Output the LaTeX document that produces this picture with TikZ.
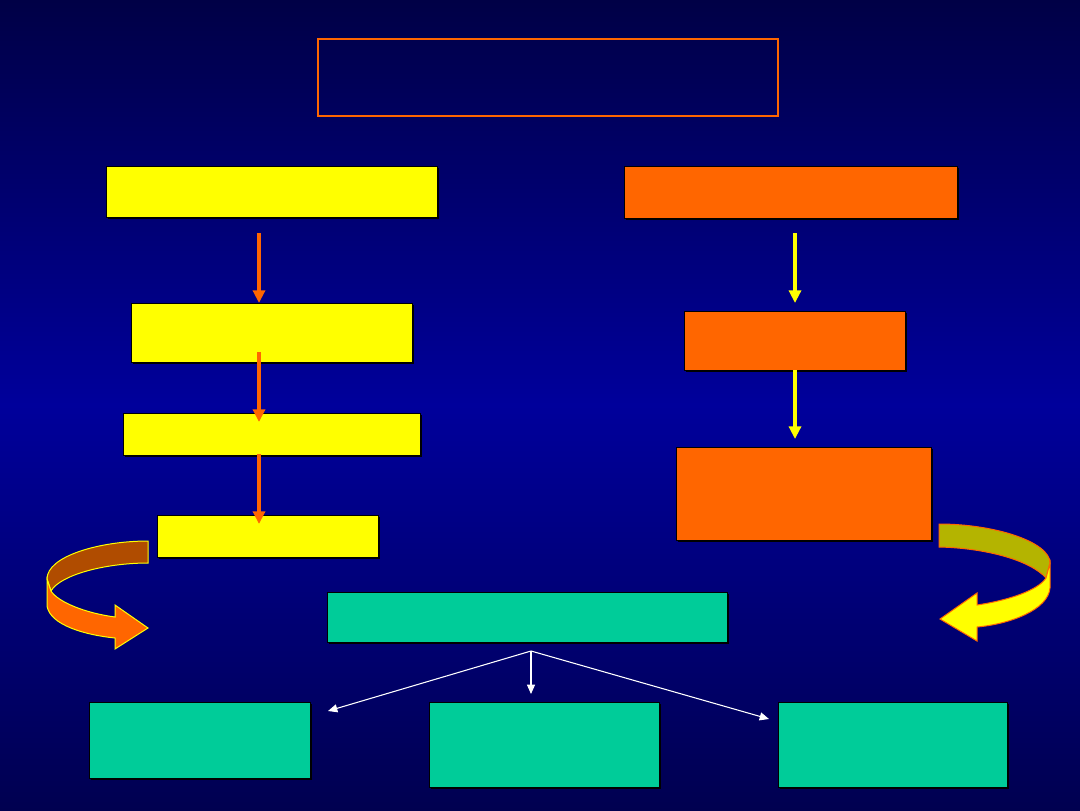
\documentclass[tikz,border=0pt]{standalone}
\usetikzlibrary{arrows.meta,shadows}

\begin{document}
\begin{tikzpicture}[x=0.75pt,y=0.75pt,yscale=-1,xscale=1,
  box/.style={draw=black,line width=0.75pt,inner sep=0pt,
    drop shadow={opacity=1,fill=black,shadow xshift=1.2pt,shadow yshift=-1.2pt}},
  ybox/.style={box,fill={rgb, 255:red, 255; green, 255; blue, 0 }},
  obox/.style={box,fill={rgb, 255:red, 255; green, 102; blue, 0 }},
  gbox/.style={box,fill={rgb, 255:red, 0; green, 204; blue, 153 }},
  oarrow/.style={draw={rgb, 255:red, 255; green, 102; blue, 0 },line width=3.5pt,-{Triangle[width=9pt,length=9.5pt]}},
  yarrow/.style={draw={rgb, 255:red, 255; green, 255; blue, 0 },line width=2.6pt,-{Triangle[width=9pt,length=9.5pt]}},
  warrow/.style={draw=white,line width=0.8pt,-{Triangle[width=6pt,length=7pt]}}]
\useasboundingbox (0,0) rectangle (1080,810);
%background
\shade [top color={rgb, 255:red, 0; green, 0; blue, 70 },bottom color={rgb, 255:red, 0; green, 0; blue, 80 },middle color={rgb, 255:red, 0; green, 0; blue, 155 }] (0,0) rectangle (1080,810);

%Shape: Rectangle
\node [draw={rgb, 255:red, 255; green, 102; blue, 0 },line width=1.1pt,minimum width=345pt,minimum height=57.75pt] (title) at (548,77.5) {};

%Shape: Rectangle
\node [ybox,minimum width=248.25pt,minimum height=38.25pt] (l1) at (271.5,191.5) {};
%Shape: Rectangle
\node [obox,minimum width=249.75pt,minimum height=39pt] (r1) at (790.5,192) {};
%Shape: Rectangle
\node [ybox,minimum width=210.75pt,minimum height=44.25pt] (l2) at (271.5,332.5) {};
%Shape: Rectangle
\node [ybox,minimum width=222.75pt,minimum height=31.5pt] (l3) at (271.5,434) {};
%Shape: Rectangle
\node [ybox,minimum width=165.75pt,minimum height=31.5pt] (l4) at (267.5,536) {};
%Shape: Rectangle
\node [obox,minimum width=165.75pt,minimum height=44.25pt] (r2) at (794.5,340.5) {};
%Shape: Rectangle
\node [obox,minimum width=191.25pt,minimum height=69.75pt] (r3) at (803.5,493.5) {};
%Shape: Rectangle
\node [gbox,minimum width=300pt,minimum height=37.5pt] (mid) at (527,617) {};
%Shape: Rectangle
\node [gbox,minimum width=165.75pt,minimum height=57pt] (b1) at (199.5,740) {};
%Shape: Rectangle
\node [gbox,minimum width=172.5pt,minimum height=63.75pt] (b2) at (544,744.5) {};
%Shape: Rectangle
\node [gbox,minimum width=171.75pt,minimum height=63.75pt] (b3) at (892.5,744.5) {};

%Straight Lines
\coordinate (o1s) at (259,233); \coordinate (o1e) at (259,303);
\coordinate (o2s) at (259,352); \coordinate (o2e) at (259,422);
\coordinate (o3s) at (259,454); \coordinate (o3e) at (259,524);
\draw [oarrow] (o1s) -- (o1e);
\draw [oarrow] (o2s) -- (o2e);
\draw [oarrow] (o3s) -- (o3e);

%Straight Lines
\coordinate (y1s) at (795,233); \coordinate (y1e) at (795,303);
\coordinate (y2s) at (795,370); \coordinate (y2e) at (795,439);
\draw [yarrow] (y1s) -- (y1e);
\draw [yarrow] (y2s) -- (y2e);

%Straight Lines
\coordinate (split) at (531,651);
\coordinate (wl) at (328,711); \coordinate (wm) at (531,694); \coordinate (wr) at (769,719);
\draw [warrow] (split) -- (wl);
\draw [warrow] (split) -- (wm);
\draw [warrow] (split) -- (wr);

%Curved Arrow left
\draw [draw={rgb, 255:red, 255; green, 255; blue, 0 },line width=0.75pt,fill={rgb, 255:red, 176; green, 76; blue, 0 }] (148,541) .. controls (100,541) and (47,556) .. (47,579) -- (51,591) .. controls (60,575) and (105,563) .. (148,563) -- cycle ;
\draw [draw={rgb, 255:red, 255; green, 255; blue, 0 },line width=0.75pt,fill={rgb, 255:red, 255; green, 102; blue, 0 }] (47,579) -- (47,606) .. controls (50,625) and (85,635) .. (115,638) -- (115,649) -- (148,628) -- (115,605) -- (115,617) .. controls (85,613) and (58,602) .. (51,591) -- cycle ;

%Curved Arrow right
\draw [draw={rgb, 255:red, 255; green, 102; blue, 0 },line width=0.75pt,fill={rgb, 255:red, 180; green, 180; blue, 0 }] (939,524) .. controls (995,524) and (1050,542) .. (1050,563) -- (1046,578) .. controls (1030,560) and (985,548) .. (939,547) -- cycle ;
\draw [draw={rgb, 255:red, 255; green, 102; blue, 0 },line width=0.75pt,fill={rgb, 255:red, 255; green, 255; blue, 0 }] (1050,563) -- (1050,588) .. controls (1048,610) and (1010,624) .. (977,627) -- (977,641) -- (940,619) -- (977,593) -- (977,605) .. controls (1010,600) and (1038,590) .. (1046,578) -- cycle ;

\end{tikzpicture}
\end{document}
